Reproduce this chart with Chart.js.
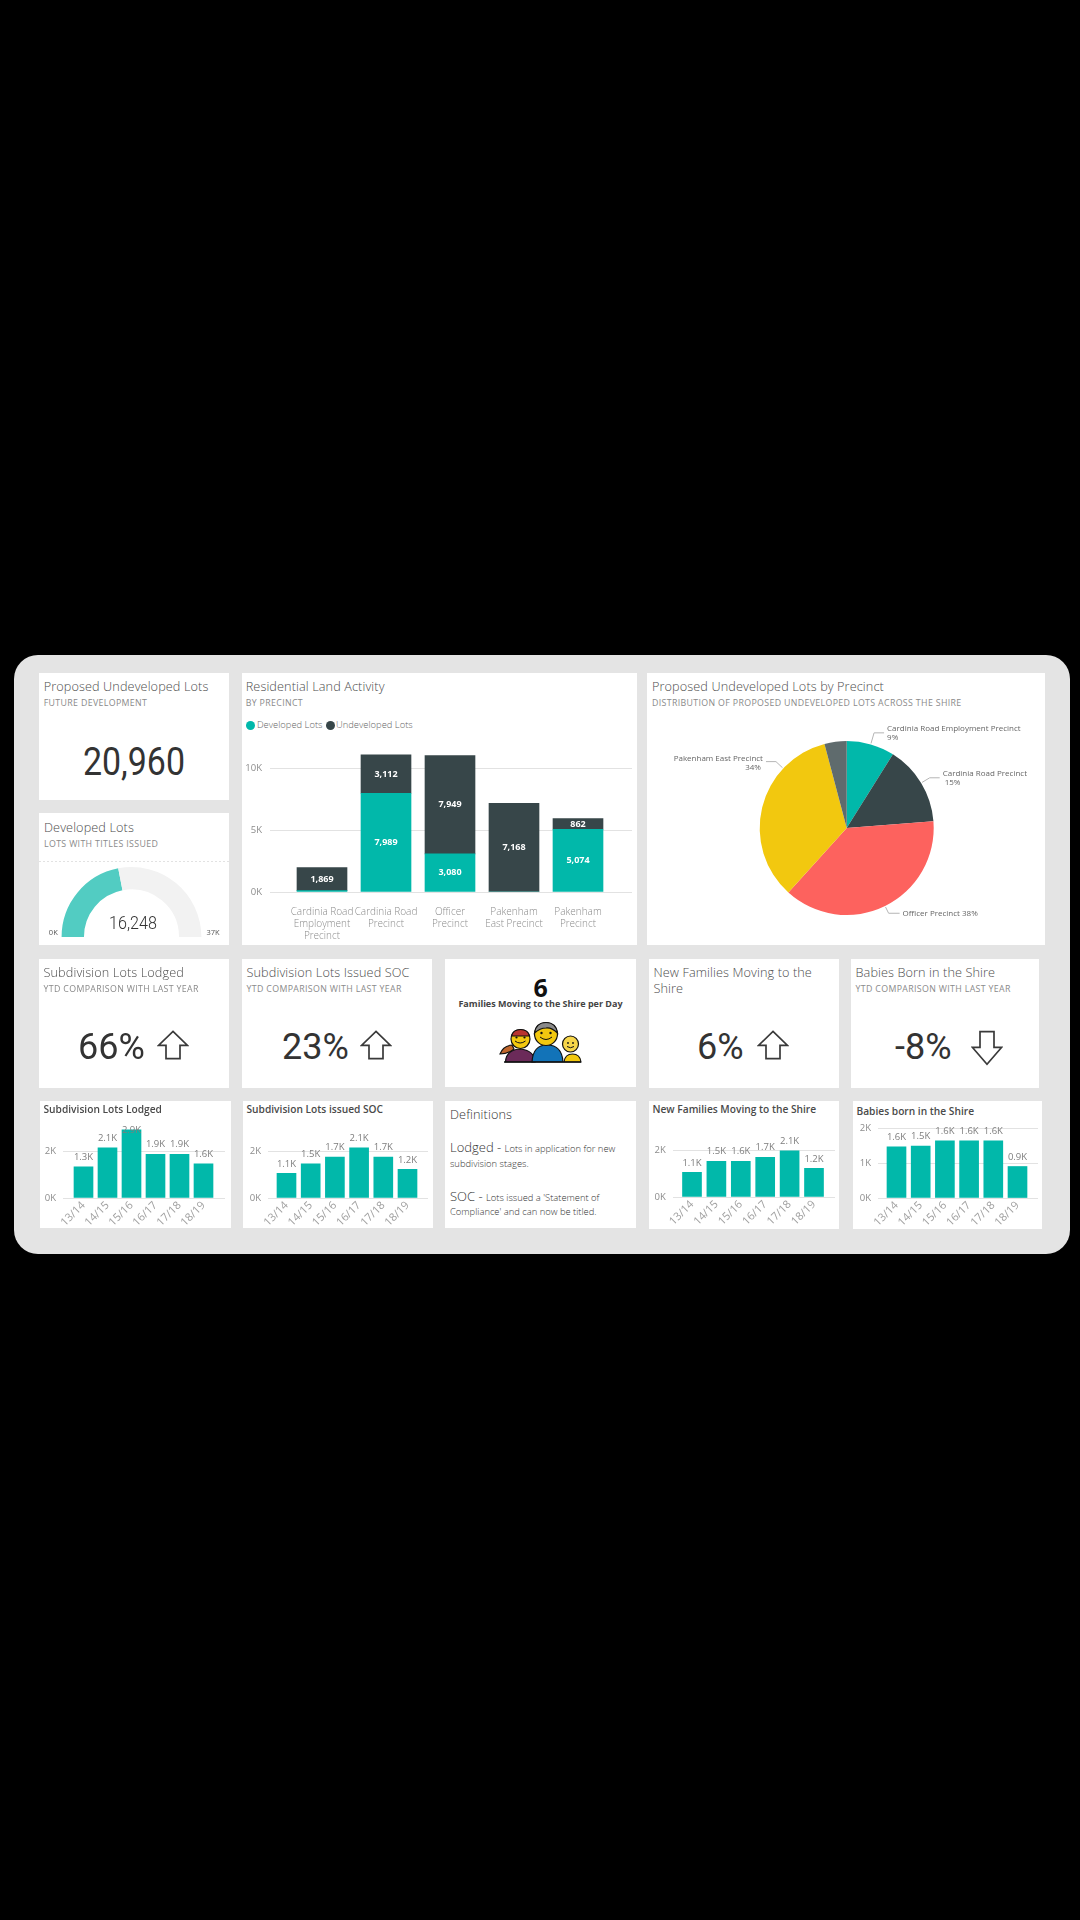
<!DOCTYPE html>
<html><head><meta charset="utf-8">
<script src="https://cdn.jsdelivr.net/npm/chart.js@4"></script>
<style>
html{background:#000}
html,body{margin:0;padding:0;width:1080px;height:1920px;overflow:hidden}
body{background:#000;filter:blur(.4px)}
#board{position:absolute;left:13.5px;top:655px;width:1056.5px;height:599px;background:#e4e4e4;border-radius:24px}
.card{position:absolute;background:#fff}
canvas{position:absolute}
.t{position:absolute;white-space:nowrap;transform:translateY(-50%);font-family:"Open Sans",sans-serif;line-height:1}
.title{font-size:12.7px;font-weight:300;color:#4d4d4d;letter-spacing:.1px}
.sub{font-size:8.8px;color:#8a8a8a;letter-spacing:.35px}
.mini{font-size:10.2px;font-weight:600;color:#4a4a4a}
.big{font-family:"Roboto",sans-serif;font-weight:400;color:#333}
.def{font-size:9.4px;font-weight:300;color:#333}
.def b{font-size:13px;font-weight:300}
.leg{font-size:9.4px;font-weight:300;color:#666}
</style></head><body>
<div id="board"></div>
<script>
// ---- data ----
const precincts = [["Cardinia Road","Employment","Precinct"],["Cardinia Road","Precinct"],["Officer","Precinct"],["Pakenham","East Precinct"],["Pakenham","Precinct"]];
const developedLots = [105,7989,3080,0,5074];
const undevelopedLots = [1869,3112,7949,7168,862];
const mainTicks = [0,5000,10000];
const pieNames = ["Cardinia Road Employment Precinct","Cardinia Road Precinct","Officer Precinct","Pakenham East Precinct","Pakenham Precinct"];
const pieValues = [1869,3112,7949,7168,862];
const pieLabels = ["9%","15%","38%","34%",""];
const years = ["13/14","14/15","15/16","16/17","17/18","18/19"];
const lodgedValues = [1330,2140,2900,1860,1860,1450];
const lodgedLabels = ["1.3K","2.1K","2.9K","1.9K","1.9K","1.6K"];
const socValues = [1050,1450,1740,2140,1740,1220];
const socLabels = ["1.1K","1.5K","1.7K","2.1K","1.7K","1.2K"];
const familiesValues = [1050,1520,1520,1690,1970,1220];
const familiesLabels = ["1.1K","1.5K","1.6K","1.7K","2.1K","1.2K"];
const babiesValues = [1460,1480,1630,1630,1630,900];
const babiesLabels = ["1.6K","1.5K","1.6K","1.6K","1.6K","0.9K"];
const miniTicks = [0,2000];
const babiesTicks = [0,1000,2000];
const gaugeValue = 16248, gaugeMin = 0, gaugeMax = 37000;
const proposedTotal = "20,960";

// ---- helpers ----
const TEAL='#01B8AA',DARK='#374649',RED='#FD625E',YEL='#F2C80F',GREY='#5F6B6D';
const FONT='"Open Sans",sans-serif';
Chart.defaults.animation=false;
Chart.defaults.responsive=false;
Chart.defaults.devicePixelRatio=1;
Chart.defaults.font.family=FONT;
function card(x0,y0,x1,y1){const d=document.createElement('div');d.className='card';d.style.cssText=`left:${x0}px;top:${y0}px;width:${x1-x0}px;height:${y1-y0}px`;document.body.appendChild(d);return d;}
function txt(s,x,cy,cls,extra){const d=document.createElement('div');d.className='t '+cls;d.style.left=x+'px';d.style.top=cy+'px';if(extra)d.style.cssText+=';'+extra;d.innerHTML=s;document.body.appendChild(d);return d;}
function cv(x0,y0,x1,y1){const c=document.createElement('canvas');c.width=x1-x0;c.height=y1-y0;c.style.left=x0+'px';c.style.top=y0+'px';c.style.width=(x1-x0)+'px';c.style.height=(y1-y0)+'px';document.body.appendChild(c);return c;}
function arrow(x,y,w,h,down){
  const s=document.createElementNS('http://www.w3.org/2000/svg','svg');
  s.setAttribute('width',w);s.setAttribute('height',h);s.setAttribute('viewBox','0 0 32 32');s.setAttribute('preserveAspectRatio','none');
  s.style.cssText=`position:absolute;left:${x}px;top:${y}px;`+(down?'transform:scaleY(-1)':'');
  s.innerHTML='<path d="M16 1.5 L30.5 16.5 L23 16.5 L23 30.5 L9 30.5 L9 16.5 L1.5 16.5 Z" fill="#fff" stroke="#3a3a3a" stroke-width="1.7" vector-effect="non-scaling-stroke"/>';
  document.body.appendChild(s);
}
const dotted={color:'#e2e2e2',lineWidth:1,drawTicks:false};
const segLabels={id:'segLabels',afterDatasetsDraw(ch){
  const c=ch.ctx;c.save();c.font='bold 9px "Open Sans",sans-serif';c.fillStyle='#fff';c.textAlign='center';c.textBaseline='middle';
  ch.data.datasets.forEach((ds,di)=>{ch.getDatasetMeta(di).data.forEach((b,i)=>{const v=ds.data[i].y;if(v<500)return;c.fillText(v.toLocaleString('en-US'),b.x,(b.y+b.base)/2);});});c.restore();}};

// ---- cards ----
card(39,673,229,800);
txt('Proposed Undeveloped Lots',43.7,686,'title');
txt('FUTURE DEVELOPMENT',43.7,703,'sub');
txt(proposedTotal,134,762,'big','font-size:39px;transform:translate(-50%,-50%) scaleX(.87)');

card(39,813,229,945);
txt('Developed Lots',44,827,'title');
txt('LOTS WITH TITLES ISSUED',44,844,'sub');
const rule=card(39,861,229,862);rule.style.background='repeating-linear-gradient(90deg,#e2e2e2 0 2px,#fff 2px 4px)';
new Chart(cv(39,813,229,945),{type:'doughnut',data:{labels:['Developed Lots','Remaining'],datasets:[{data:[gaugeValue-gaugeMin,gaugeMax-gaugeValue],backgroundColor:['#52CCC2','#F2F2F2'],borderWidth:0}]},
 options:{rotation:-90,circumference:180,cutout:'68%',layout:{padding:{left:22.6,right:27.6,top:54,bottom:8}},plugins:{legend:{display:false},tooltip:{enabled:false}}}});
txt(gaugeValue.toLocaleString('en-US'),132.7,922,'big','font-size:19px;font-weight:300;transform:translate(-50%,-50%) scaleX(.85)');
txt((gaugeMin/1000)+'K',53.3,933,'sub','font-size:7.5px;color:#555;transform:translate(-50%,-50%);letter-spacing:0');
txt((gaugeMax/1000)+'K',213,933,'sub','font-size:7.5px;color:#555;transform:translate(-50%,-50%);letter-spacing:0');

// main stacked bars
card(242,673,637,945);
txt('Residential Land Activity',245.7,686,'title');
txt('BY PRECINCT',245.7,703,'sub');
function dot(x,y,col){const d=document.createElement('div');d.style.cssText=`position:absolute;left:${x-4.5}px;top:${y-4.5}px;width:9px;height:9px;border-radius:50%;background:${col}`;document.body.appendChild(d);}
dot(250.8,725,TEAL);txt('Developed Lots',257,725,'leg');
dot(330,725,DARK);txt('Undeveloped Lots',336,725,'leg');
(function(){
 const L=242,R=637,T=673,B=945,pl=270,pr=632,base=892,pxPerUnit=61.8/5000,ymax=12000,c0=322,step=64;
 new Chart(cv(L,T,R,B),{type:'bar',data:{datasets:[
   {label:'Developed Lots',data:developedLots.map((y,x)=>({x,y})),backgroundColor:TEAL,barThickness:50,stack:'s'},
   {label:'Undeveloped Lots',data:undevelopedLots.map((y,x)=>({x,y})),backgroundColor:DARK,barThickness:50,stack:'s'}]},
  options:{layout:{padding:{top:base-ymax*pxPerUnit-T,right:R-pr,left:0,bottom:0}},
   plugins:{legend:{display:false},tooltip:{enabled:false}},
   scales:{
    x:{type:'linear',offset:false,stacked:true,min:(pl-c0)/step,max:(pr-c0)/step,grid:{display:false},border:{display:false},
       afterBuildTicks(s){s.ticks=precincts.map((_,i)=>({value:i}));},afterFit(s){s.height=B-base;},
       ticks:{autoSkip:false,maxRotation:0,minRotation:0,padding:6,color:'#8c8c8c',font:{size:10,weight:300,lineHeight:1.2},callback:v=>precincts[v]}},
    y:{stacked:true,min:0,max:ymax,grid:dotted,border:{display:false},afterFit(s){s.width=pl-L;},
       afterBuildTicks(s){s.ticks=mainTicks.map(value=>({value}));},
       ticks:{autoSkip:false,padding:8,color:'#8c8c8c',font:{size:9.5},callback:v=>(v/1000)+'K'}}}},
  plugins:[segLabels]});
})();

// pie
card(647,673,1045,945);
txt('Proposed Undeveloped Lots by Precinct',652,686,'title');
txt('DISTRIBUTION OF PROPOSED UNDEVELOPED LOTS ACROSS THE SHIRE',652,703,'sub');
const leaderCfg=[
 {f:.5,out:12,run:10,side:1,lines:[[pieNames[0],0],[pieLabels[0],0]]},
 {f:.5,out:10,run:10,side:1,lines:[[pieNames[1],0],[pieLabels[1],2]]},
 {f:.5,out:8,run:11,side:1,lines:[[pieNames[2]+' '+pieLabels[2],0]]},
 {f:.74,out:10,run:10,side:-1,lines:[[pieNames[3],0],[pieLabels[3],-2]]}];
const pieLeaders={id:'pieLeaders',afterDatasetsDraw(ch){
  const c=ch.ctx,arcs=ch.getDatasetMeta(0).data;c.save();
  leaderCfg.forEach((l,i)=>{const a=arcs[i],ang=a.startAngle+(a.endAngle-a.startAngle)*l.f,r=a.outerRadius;
    const p0=[a.x+Math.cos(ang)*(r+1),a.y+Math.sin(ang)*(r+1)],p1=[a.x+Math.cos(ang)*(r+l.out),a.y+Math.sin(ang)*(r+l.out)],p2=[p1[0]+l.side*l.run,p1[1]];
    c.strokeStyle='#b5b5b5';c.lineWidth=1;c.beginPath();c.moveTo(...p0);c.lineTo(...p1);c.lineTo(...p2);c.stroke();
    c.font='8px "Open Sans",sans-serif';c.fillStyle='#666';c.textBaseline='middle';c.textAlign=l.side>0?'left':'right';
    const lh=8.7,y0=p2[1]-(l.lines.length>1?(l.side>0?4:3):0);
    l.lines.forEach((ln,j)=>c.fillText(ln[0],p2[0]+l.side*3+ln[1],y0+j*lh));
  });c.restore();}};
new Chart(cv(647,673,1045,945),{type:'pie',data:{labels:pieNames,datasets:[{data:pieValues,backgroundColor:[TEAL,DARK,RED,YEL,GREY],borderWidth:0}]},
 options:{layout:{padding:{left:112.7,right:111.3,top:68,bottom:30}},plugins:{legend:{display:false},tooltip:{enabled:false}}},plugins:[pieLeaders]});

// KPI row
function kpi(x0,x1,title,sub,val,vx,ax,down){
 card(x0,959,x1,1088);
 title.forEach((s,i)=>txt(s,x0+4.5,972+i*16,'title'));
 if(sub)txt(sub,x0+4.5,989,'sub');
 txt(val,vx,1047,'big','font-size:36px');
 arrow(ax,1030,32,down?36:30,down);
}
kpi(39,229,['Subdivision Lots Lodged'],'YTD COMPARISON WITH LAST YEAR','66%',78,157);
kpi(242,432,['Subdivision Lots Issued SOC'],'YTD COMPARISON WITH LAST YEAR','23%',282,360);
kpi(649,839,['New Families Moving to the','Shire'],null,'6%',697,757);
kpi(851,1039,['Babies Born in the Shire'],'YTD COMPARISON WITH LAST YEAR','-8%',895,971,true);

// families card
card(445,959,636,1087);
txt('6',540.7,987,'', 'font-size:25px;font-weight:700;color:#111;transform:translate(-50%,-50%)');
txt('Families Moving to the Shire per Day',540.5,1003,'','font-size:9px;font-weight:700;color:#444;transform:translate(-50%,-50%)');
(function(){const s=document.createElementNS('http://www.w3.org/2000/svg','svg');
 s.setAttribute('width',90);s.setAttribute('height',60);s.style.cssText='position:absolute;left:498px;top:1018px';
 s.innerHTML=`<g transform="translate(-498,-1018)" stroke="#111" stroke-width="1.2">
 <path d="M512 1045 Q503 1046 500 1054 Q508 1054 514 1049Z" fill="#C0662B"/>
 <path d="M505.5 1062 Q506 1050 520 1049 Q534 1050 535 1062Z" fill="#6B2A59"/>
 <circle cx="520.5" cy="1039" r="9.5" fill="#F2C80F"/><path d="M511.5 1036 Q513 1029.5 520.5 1029.5 Q528 1029.5 529.5 1036Z" fill="#B8342F"/>
 <path d="M532 1062 Q533 1045 547 1045 Q562 1045 563 1062Z" fill="#1273B8"/>
 <circle cx="546" cy="1034" r="11.5" fill="#F2C80F"/><path d="M534.5 1033 Q536 1022.5 546 1022.5 Q556 1022.5 557.5 1033 Q551 1027 546 1028 Q540 1028 534.5 1033Z" fill="#8a8a8a"/>
 <path d="M564 1062 Q565 1054 572.5 1054 Q580 1054 581 1062Z" fill="#F2C80F"/>
 <circle cx="570.5" cy="1044" r="8" fill="#F7D64A"/>
 <g fill="none" stroke-width="1"><path d="M515 1041 Q520 1045 525.5 1041"/><path d="M540 1037 Q546 1042 552 1037"/><path d="M567 1046.5 Q570.5 1049 574 1046.5"/></g>
 <g fill="#111" stroke="none"><circle cx="516.5" cy="1037.5" r="1.1"/><circle cx="524.5" cy="1037.5" r="1.1"/><circle cx="541.5" cy="1033" r="1.2"/><circle cx="550.5" cy="1033" r="1.2"/><circle cx="568" cy="1043" r=".9"/><circle cx="573" cy="1043" r=".9"/></g>
 <path d="M504 1062 H581" stroke-width="1.4"/></g>`;
 document.body.appendChild(s);})();

// definitions
card(445,1101,636,1228);
txt('Definitions',450,1114,'title','color:#333');
txt('<b>Lodged - </b>Lots in application for new',450,1147,'def');
txt('subdivision stages.',450,1164,'def');
txt('<b>SOC - </b>Lots issued a \'Statement of',450,1196,'def');
txt('Compliance\' and can now be titled.',450,1212,'def');

// mini bar charts
const miniLabels={id:'miniLabels',afterDatasetsDraw(ch,_,o){
 const c=ch.ctx,top=ch.chartArea.top;c.save();c.font='9.5px "Open Sans",sans-serif';c.fillStyle='#7d7d7d';c.textAlign='center';c.textBaseline='middle';
 ch.getDatasetMeta(0).data.forEach((b,i)=>{c.fillText(o.texts[i],b.x,Math.max(b.y-9.5,top+3));});c.restore();}};
function mini(cfg){
 const {L,R,T,B,pl,pr,base,c0,step,pxK,ymax,ticksList,title,vals,labs,bw}=cfg;
 card(L,T,R,B);
 txt(title,L+3.5,cfg.ty||1109,'mini');
 new Chart(cv(L,T,R,B),{type:'bar',data:{datasets:[{label:title,data:vals.map((y,x)=>({x,y})),backgroundColor:TEAL,barThickness:bw}]},
  options:{layout:{padding:{top:base-ymax/1000*pxK-T,right:R-pr,left:0,bottom:0}},
   plugins:{legend:{display:false},tooltip:{enabled:false},miniLabels:{texts:labs}},
   scales:{
    x:{type:'linear',offset:false,min:(pl-c0)/step,max:(pr-c0)/step,grid:{display:false},border:{display:false},
       afterBuildTicks(s){s.ticks=years.map((_,i)=>({value:i}));},afterFit(s){s.height=B-base;},
       ticks:{autoSkip:false,minRotation:45,maxRotation:45,padding:-7,color:'#a0a0a0',font:{size:11},callback:v=>years[v]}},
    y:{min:0,max:ymax,grid:dotted,border:{display:false},afterFit(s){s.width=pl-L;},
       afterBuildTicks(s){s.ticks=ticksList.map(value=>({value}));},
       ticks:{autoSkip:false,padding:7,color:'#8c8c8c',font:{size:9.5},callback:v=>(v/1000)+'K'}}}},
  plugins:[miniLabels]});
}
mini({L:40,R:231,T:1101,B:1228,pl:63,pr:225,base:1198,c0:83.5,step:24,pxK:23.5,ymax:3000,ticksList:miniTicks,bw:19,title:'Subdivision Lots Lodged',vals:lodgedValues,labs:lodgedLabels});
mini({L:243,R:433,T:1101,B:1228,pl:268,pr:428,base:1198,c0:286.5,step:24.2,pxK:23.5,ymax:3000,ticksList:miniTicks,bw:19,title:'Subdivision Lots issued SOC',vals:socValues,labs:socLabels});
mini({L:649,R:839,T:1101,B:1229,pl:672.7,pr:835,base:1197,c0:692,step:24.4,pxK:23.5,ymax:3000,ticksList:miniTicks,bw:19,title:'New Families Moving to the Shire',vals:familiesValues,labs:familiesLabels});
mini({L:853,R:1042,T:1101,B:1229,pl:878,pr:1038,base:1198,c0:896.5,step:24.2,pxK:35,ymax:2000,ticksList:babiesTicks,bw:19,title:'Babies born in the Shire',ty:1110.5,vals:babiesValues,labs:babiesLabels});
</script>
</body></html>
